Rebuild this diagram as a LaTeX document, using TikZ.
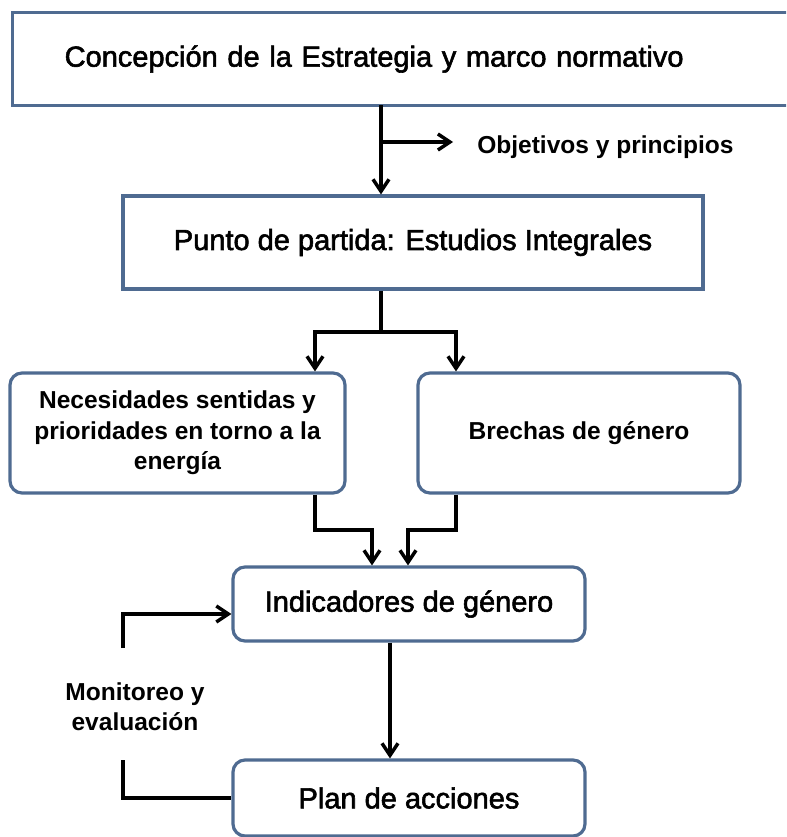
\documentclass[tikz,border=0pt]{standalone}
\usepackage{fontspec}
\setmainfont{Liberation Sans}
\newfontfamily\heavyfam{Liberation Sans}[FakeBold=2]
\usepackage{tikz}
\usetikzlibrary{positioning,calc,arrows.meta}

\definecolor{boxblue}{RGB}{79,107,145}
\newcommand{\bigtxt}{\heavyfam\fontsize{21.75pt}{26pt}\selectfont}
\newcommand{\smalltxt}{\bfseries\fontsize{18.4pt}{22.8pt}\selectfont}

\tikzset{
    sqbox/.style={draw=boxblue, line width=2.4pt, fill=white, font=\bigtxt, align=center},
    rbox/.style={sqbox, rounded corners=9pt},
    line/.style={line width=2.6pt, black},
    arr/.style={line, -{Straight Barb[length=9pt,width=12pt]}},
}

\begin{document}
\begin{tikzpicture}[x=0.75pt, y=-0.75pt]
    \useasboundingbox (0,0) rectangle (786,837);
    \clip (0,0) rectangle (786,837);

    % Boxes (top one runs off the right edge)
    \node[font=\bigtxt, minimum width=638pt, minimum height=69pt, inner xsep=39pt,
          text width=560pt, align=left] (top) at (438,59)
        {Concepción de la Estrategia y marco normativo};
    \draw[boxblue, line width=2.4pt] (top.north east) -- (top.north west)
        -- (top.south west) -- (top.south east);
    \node[sqbox, minimum width=435pt, minimum height=69.75pt] (punto) at (413,242.5)
        {Punto de partida: Estudios Integrales};
    \node[rbox, minimum width=251.25pt, minimum height=90pt, font=\smalltxt] (nec) at (177.5,433)
        {Necesidades sentidas y\\prioridades en torno a la\\energía};
    \node[rbox, minimum width=241.5pt, minimum height=90pt, font=\smalltxt] (bre) at (579,433)
        {Brechas de género};
    \node[rbox, minimum width=264pt, minimum height=55.5pt] (ind) at (409,604)
        {Indicadores de género};
    \node[rbox, minimum width=264pt, minimum height=57pt] (plan) at (409,798)
        {Plan de acciones};

    % Labels
    \node[font=\smalltxt, anchor=west, inner xsep=18pt] (obj) at (453,147) {Objetivos y principios};
    \node[font=\smalltxt, align=center] (mon) at (135,707) {Monitoreo y\\evaluación};

    % Helper coordinates
    \coordinate (a1) at (381,0);
    \coordinate (b1) at (381,142);
    \coordinate (j1) at (381,332);
    \coordinate (jl) at (315,332);
    \coordinate (jr) at (456,332);
    \coordinate (k1) at (0,530);
    \coordinate (ql) at (372,0);
    \coordinate (qr) at (408,0);
    \coordinate (c1) at (390,0);
    \coordinate (f1) at (123,648);
    \coordinate (f2) at (123,760);

    % Connectors
    \draw[arr] (top.south -| a1) -- (punto.north -| a1);
    \draw[arr] (b1) -- (b1 -| obj.west);
    \draw[arr] (punto.south -| a1) -- (j1) -| (nec.north -| jl);
    \draw[arr] (j1) -| (bre.north -| jr);
    \draw[arr] (nec.south -| jl) -- (jl |- k1) -| (ind.north -| ql);
    \draw[arr] (bre.south -| jr) -- (jr |- k1) -| (ind.north -| qr);
    \draw[arr] (ind.south -| c1) -- (plan.north -| c1);

    % Feedback loop
    \draw[arr] (f1) |- ([yshift=-7.5pt]ind.west);
    \draw[line] (f2) |- (plan.west);
\end{tikzpicture}
\end{document}
